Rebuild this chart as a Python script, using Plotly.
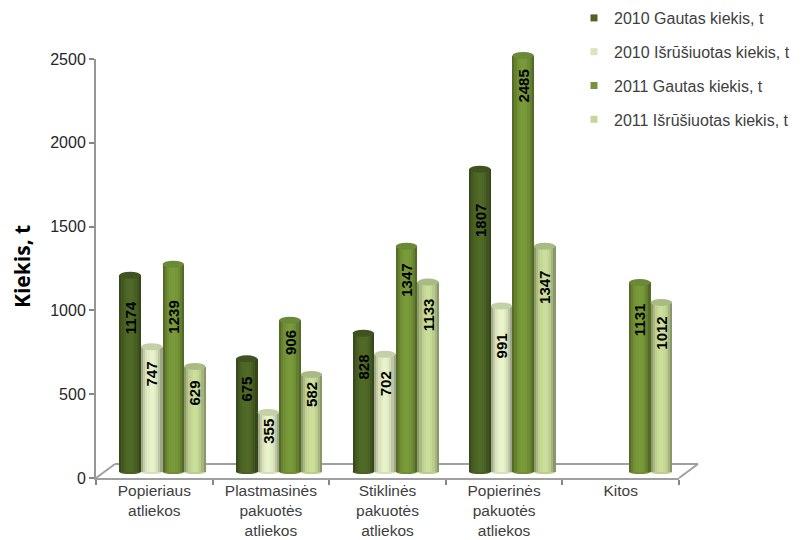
import plotly.graph_objects as go

categories = ["Popieriaus<br>atliekos", "Plastmasinės<br>pakuotės<br>atliekos",
              "Stiklinės<br>pakuotės<br>atliekos", "Popierinės<br>pakuotės<br>atliekos", "Kitos"]
series_names = ["2010 Gautas kiekis, t", "2010 Išrūšiuotas kiekis, t",
                "2011 Gautas kiekis, t", "2011 Išrūšiuotas kiekis, t"]
gautas_2010 = [1174, 675, 828, 1807, None]
isrusiuotas_2010 = [747, 355, 702, 991, None]
gautas_2011 = [1239, 906, 1347, 2485, 1131]
isrusiuotas_2011 = [629, 582, 1133, 1347, 1012]
all_series = [gautas_2010, isrusiuotas_2010, gautas_2011, isrusiuotas_2011]

# styles
base_colors = [(78, 102, 38), (226, 236, 196), (118, 150, 56), (198, 216, 150)]
legend_colors = ["#4f6228", "#d7e4bd", "#77933c", "#c3d69b"]
top_colors = ["#3f5220", "#c4d0a6", "#6a8a38", "#a9bb84"]
label_drop_px = [[43, 27, 53, 26], [30, 19, 22, 20], [34, 29, 34, 33], [51, 40, 31, 41], [0, 0, 37, 31]]
shade = [0.72, 0.86, 0.96, 1.0, 1.03, 1.03, 1.0, 0.94, 0.84, 0.70]

W, H = 806, 540
x0_px, x1_px = 96, 679
y0_px, y1_px = 478, 59
y_per_px = 2500 / (y0_px - y1_px)
base_lift_px = 6
headroom_px = 30
cat_px = (x1_px - x0_px) / 5
bar_w = 21.6 / cat_px
start = -35 / cat_px


def mix(c, f):
    return "rgb(%d,%d,%d)" % tuple(min(255, int(v * f)) for v in c)


fig = go.Figure()
shapes = []
annotations = []
N = len(shade)
cats_idx = list(range(len(categories)))

for s, vals in enumerate(all_series):
    left = start + s * bar_w
    xs = [i for i in cats_idx if vals[i] is not None]
    ys = [vals[i] for i in xs]
    for k, f in enumerate(shade):
        fig.add_trace(go.Bar(
            x=[categories[i] for i in xs], y=ys, yaxis="y2",
            offset=left + k * bar_w / N, width=bar_w / N * 1.05,
            marker=dict(color=mix(base_colors[s], f), line_width=0),
            showlegend=False, hoverinfo="skip"))
    for i, v in zip(xs, ys):
        shapes.append(dict(type="circle", xref="x", yref="y2", layer="above",
                           x0=i + left, x1=i + left + bar_w,
                           y0=v - 3.5 * y_per_px, y1=v + 3.5 * y_per_px,
                           fillcolor=top_colors[s], line_width=0))
        shapes.append(dict(type="circle", xref="x", yref="y2", layer="below",
                           x0=i + left, x1=i + left + bar_w,
                           y0=-2 * y_per_px, y1=2 * y_per_px,
                           fillcolor=mix(base_colors[s], 0.95), line_width=0))
        annotations.append(dict(x=i + left + bar_w / 2, y=v, xref="x", yref="y2",
                                yshift=-label_drop_px[i][s], text="<b>%d</b>" % v, textangle=-90,
                                showarrow=False, font=dict(family="Liberation Sans", size=15, color="#000000")))
    fig.add_trace(go.Scatter(
        x=[None], y=[None], mode="markers", name=series_names[s], legendgroup=str(s),
        marker=dict(symbol="square", size=7, color=legend_colors[s])))

floor = "#a0a0a0"
dx, dy = 19, 14
for a, b in [((x0_px, y0_px), (x0_px + dx, y0_px - dy)),
             ((x0_px + dx, y0_px - dy), (x1_px + dx, y0_px - dy)),
             ((x1_px, y0_px), (x1_px + dx, y0_px - dy))]:
    shapes.append(dict(type="line", xref="paper", yref="paper", layer="below",
                       x0=a[0] / W, y0=1 - a[1] / H, x1=b[0] / W, y1=1 - b[1] / H,
                       line=dict(color=floor, width=2)))

annotations.append(dict(text="<b>Kiekis, t</b>", xref="paper", yref="paper", x=22 / W, y=1 - 267 / H,
                        xanchor="center", yanchor="middle", textangle=-90, showarrow=False,
                        font=dict(family="Open Sans", size=21, color="#000000")))

fig.update_layout(
    width=W, height=H, autosize=False, paper_bgcolor="white", plot_bgcolor="rgba(0,0,0,0)",
    margin=dict(l=0, r=0, t=0, b=0, autoexpand=False), barmode="overlay", bargap=0,
    font=dict(family="Liberation Sans", color="#404040", size=13),
    xaxis=dict(domain=[x0_px / W, x1_px / W], type="category", categoryorder="array",
               categoryarray=categories, range=[-0.5, 4.5], tickson="boundaries",
               ticks="outside", ticklen=5, tickcolor="#868686", tickwidth=1.5,
               showline=True, linecolor="#a0a0a0", linewidth=2, showgrid=False,
               tickfont=dict(size=15.5, color="#404040"), anchor="y", tickangle=0,
               ticklabelstandoff=-3),
    yaxis=dict(domain=[1 - y0_px / H, 1 - y1_px / H], range=[0, 2500], tickvals=[0, 500, 1000, 1500, 2000, 2500],
               ticks="outside", ticklen=5, tickcolor="#868686", tickwidth=1.5,
               showline=True, linecolor="#969696", linewidth=2, showgrid=False, zeroline=False,
               tickfont=dict(size=16, color="#262626"), anchor="x"),
    yaxis2=dict(domain=[1 - y0_px / H, 1 - (y1_px - headroom_px) / H], anchor="x",
                range=[-base_lift_px * y_per_px, 2500 + (headroom_px - base_lift_px) * y_per_px],
                visible=False, showgrid=False, zeroline=False),
    legend=dict(x=574 / W, y=1 - 1 / H, xanchor="left", yanchor="top", tracegroupgap=10,
                font=dict(size=16, color="#404040"), itemwidth=30, bgcolor="rgba(0,0,0,0)"),
    shapes=shapes, annotations=annotations,
)

fig.write_html("out.html", config={"displayModeBar": False}, post_script="document.body.style.margin='0';")
